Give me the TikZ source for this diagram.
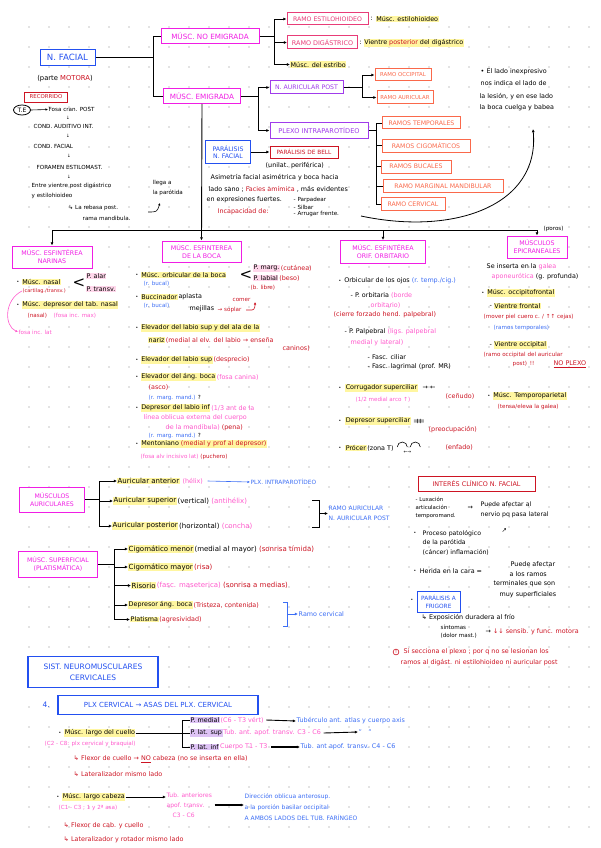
\documentclass[tikz,border=0pt]{standalone}
\usepackage{fontspec}
\setmainfont{DejaVu Sans}
\usetikzlibrary{arrows.meta,positioning,shapes.geometric}

\definecolor{blueink}{RGB}{35,80,240}
\definecolor{magink}{RGB}{240,30,228}
\definecolor{roseink}{RGB}{232,60,120}
\definecolor{purpink}{RGB}{160,60,235}
\definecolor{orgink}{RGB}{250,105,75}
\definecolor{redink}{RGB}{205,20,35}
\definecolor{pinkink}{RGB}{255,90,205}
\definecolor{bluetx}{RGB}{60,110,245}
\definecolor{hlyel}{RGB}{255,246,160}
\definecolor{hlpur}{RGB}{222,195,245}
\definecolor{hlpink}{RGB}{255,215,235}
\definecolor{dotc}{RGB}{200,200,200}

\newcommand{\tred}[1]{\textcolor{redink}{#1}}
\newcommand{\tpink}[1]{\textcolor{pinkink}{#1}}
\newcommand{\tblue}[1]{\textcolor{bluetx}{#1}}

\tikzset{
  tx/.style={anchor=west, inner sep=0.5pt, font=\fontsize{6.4}{7.5}\selectfont},
  sm/.style={tx, font=\fontsize{5.6}{6.5}\selectfont},
  big/.style={tx, font=\fontsize{7}{8}\selectfont},
  hy/.style={tx, fill=hlyel},
  hp/.style={tx, fill=hlpur},
  hk/.style={tx, fill=hlpink},
  hyb/.style={big, fill=hlyel},
  bu/.style={tx, font=\fontsize{4.5}{5}\selectfont},
  bx/.style={draw=#1, text=#1, fill=white, line width=1pt, inner sep=1pt, align=center, font=\fontsize{6.5}{7.8}\selectfont},
  ln/.style={line width=0.9pt},
  arr/.style={ln, -{Latex[length=3.2pt,width=3pt]}},
  thn/.style={line width=0.6pt, -{Latex[length=2.5pt,width=2.4pt]}},
}

\begin{document}
\begin{tikzpicture}[x=1pt,y=-1pt]
\fill[white] (0,0) rectangle (600,848);
\useasboundingbox (0,0) rectangle (600,848);
% dot grid
\foreach \i in {0,...,28}{\foreach \j in {0,...,40}{\fill[dotc] (29+20*\i,27+20*\j) circle (0.8pt);}}

% ---- N. facial tree
\node[bx=blueink, font=\fontsize{8.6}{9}\selectfont, minimum width=55pt, minimum height=16pt] (nfacial) at (67.5,57.5) {N. FACIAL};
\node[tx, anchor=center, font=\fontsize{6.8}{8}\selectfont] (motora) at (65,79) {(parte \tred{MOTORA})};
\node[bx=magink, font=\fontsize{7.2}{8}\selectfont, minimum width=98pt, minimum height=15pt] (noemig) at (210,36) {MÚSC. NO EMIGRADA};
\node[bx=magink, font=\fontsize{7.2}{8}\selectfont, minimum width=77pt, minimum height=15pt] (emig) at (202,96) {MÚSC. EMIGRADA};
\draw[ln] (nfacial.east) -- ++(58,0) coordinate (fk);
\draw[ln] (fk) |- (noemig.west);
\draw[ln] (fk) |- (emig.west);

\node[bx=roseink, font=\fontsize{6.2}{7}\selectfont, minimum width=81pt, minimum height=12pt] (restilo) at (327.5,19) {RAMO ESTILOHIOIDEO};
\node[bx=roseink, font=\fontsize{6.4}{7}\selectfont, minimum width=70pt, minimum height=13pt] (rdigas) at (322.5,42.5) {RAMO DIGÁSTRICO};
\node[hy] (estribo) at (290,64.5) {Músc. del estribo};
\draw[ln] (noemig.east) -- ++(15,0) coordinate (nk);
\draw[arr] (nk) |- (restilo.west);
\draw[arr] (nk) |- (rdigas.west);
\draw[arr] (nk) |- (estribo.west);
\node[tx] (c1) at (370,19) {:};
\node[hy] (estilo) at ([xshift=2pt]c1.east) {Músc. estilohioideo};
\node[tx] (c2) at (359,43) {:};
\node[hy] (vpost) at ([xshift=1pt]c2.east) {Vientre \tred{posterior} del digástrico};

\node[bx=purpink, font=\fontsize{6.2}{7}\selectfont, minimum width=73pt, minimum height=13pt] (naur) at (306.5,87.5) {N. AURICULAR POST};
\node[bx=purpink, font=\fontsize{6.6}{7.5}\selectfont, minimum width=98pt, minimum height=15pt] (plexo) at (319,130.5) {PLEXO INTRAPAROTÍDEO};
\draw[ln] (emig.east) -- ++(17,0) coordinate (ek);
\draw[arr] (ek) |- (naur.west);
\draw[arr] (ek) |- (plexo.west);

\node[bx=orgink, font=\fontsize{5.4}{6.5}\selectfont, minimum width=56pt, minimum height=12pt] (rocc) at (403,75) {RAMO OCCIPITAL};
\node[bx=orgink, font=\fontsize{5.4}{6.5}\selectfont, minimum width=56pt, minimum height=13pt] (raur) at (405,97.5) {RAMO AURICULAR};
\draw[ln] (naur.east) -- ++(19,0) coordinate (ak);
\draw[arr] (ak) |- (rocc.west);
\draw[arr] (ak) |- (raur.west);

\node[bx=orgink, font=\fontsize{6.2}{7}\selectfont, minimum width=78pt, minimum height=12pt] (rtemp) at (421.5,123) {RAMOS TEMPORALES};
\node[bx=orgink, font=\fontsize{6.2}{7}\selectfont, minimum width=88pt, minimum height=13pt] (rcig) at (426,145.5) {RAMOS CIGOMÁTICOS};
\node[bx=orgink, font=\fontsize{6.2}{7}\selectfont, minimum width=70pt, minimum height=13pt] (rbuc) at (416,166.5) {RAMOS BUCALES};
\node[bx=orgink, font=\fontsize{6.2}{7}\selectfont, minimum width=120pt, minimum height=13pt] (rmarg) at (443,186) {RAMO MARGINAL MANDIBULAR};
\node[bx=orgink, font=\fontsize{6.2}{7}\selectfont, minimum width=64pt, minimum height=13pt] (rcerv) at (413,204) {RAMO CERVICAL};
\draw[ln] (plexo.east) -- ++(8,0) coordinate (pk);
\draw[ln] (pk) |- (rtemp.west);
\draw[ln] (pk) |- (rcig.west);
\draw[ln] (pk) |- (rbuc.west);
\draw[ln] (pk) |- (rmarg.west);
\draw[ln] (pk) |- (rcerv.west);

% note on the right
\node[tx] (note1) at (480,72) {• El lado inexpresivo};
\node[tx] (note2) at (480,83) {nos indica el lado de};
\node[tx] (note3) at (479,97) {la lesión, y en ese lado};
\node[tx] (note4) at (479,108) {la boca cuelga y babea};

% ---- paralysis
\node[bx=blueink, font=\fontsize{6.2}{7.5}\selectfont, minimum width=45pt, minimum height=23pt] (paral) at (228,152) {PARÁLISIS\\N. FACIAL};
\node[bx=redink, font=\fontsize{5.8}{7}\selectfont, minimum width=68pt, minimum height=12pt] (bell) at (304,152) {PARÁLISIS DE BELL};
\draw[arr] (paral.east) -- (bell.west);
\node[tx] (unil) at (265,166) {(unilat. periférica)};
\node[tx] (asim) at (210,177.5) {Asimetría facial asimétrica y boca hacia};
\node[tx] (lsano) at (208,189) {lado sano ; \tred{Facies amímica} , más evidentes};
\node[tx] (fuert) at (206,200) {en expresiones fuertes.};
\node[tx] (incap) at (217,212) {\tred{Incapacidad de:}};
\node[sm] (parp) at (293,200) {- Parpadear};
\node[sm] (silb) at (293,207) {- Silbar};
\node[sm] (arrug) at (293,214) {- Arrugar frente.};
\coordinate (cv1) at (361,216);
\coordinate (cv2) at (533,129);
\draw[arr, line width=0.8pt] (cv1) .. controls (455,236) and (540,205) .. (cv2);

% ---- recorrido
\node[bx=redink, font=\fontsize{5.4}{6}\selectfont, line width=0.7pt, minimum width=43pt, minimum height=10pt] (recor) at (46,97) {RECORRIDO};
\node[draw, ellipse, line width=0.8pt, inner sep=0.3pt, minimum width=17pt, minimum height=10pt, font=\fontsize{6}{7}\selectfont] (te) at (22,110) {T.E};
\node[sm] (fosa) at (48,109.5) {Fosa cran. POST};
\draw[thn] (te.east) -- (fosa.west);
\node[sm] (caint) at (33,126) {COND. AUDITIVO INT.};
\node[sm] (cfac) at (33,146.5) {COND. FACIAL};
\node[sm] (foram) at (36,167) {FORAMEN ESTILOMAST.};
\node[sm] (entre) at (31,186) {Entre vientre post digástrico};
\node[sm] (yest) at (31,196) {y estilohioideo};
\node[bu, anchor=center] (d1) at (68,117.5) {↓};
\node[bu, anchor=center] (d2) at (68,136) {↓};
\node[bu, anchor=center] (d3) at (69,156) {↓};
\node[bu, anchor=center] (d4) at (69,176.5) {↓};
\node[sm] (rebasa) at (68,208) {↳ La rebasa post.};
\node[sm] (rama) at (82,218) {rama mandibula.};
\node[sm] (llega) at (152,183) {llega a};
\node[sm] (parot) at (152,192.5) {la parótida};
\coordinate (hk1) at (148,212);
\draw[thn] (hk1) .. controls (157,212) .. (160,203);

% ---- second level
\node[bx=magink, font=\fontsize{6.3}{8}\selectfont, minimum width=80pt, minimum height=22pt] (narinas) at (52,257) {MÚSC. ESFINTÉREA\\NARINAS};
\node[bx=magink, font=\fontsize{6.3}{8}\selectfont, minimum width=79pt, minimum height=21pt] (boca) at (201.5,251.5) {MÚSC. ESFINTEREA\\DE LA BOCA};
\node[bx=magink, font=\fontsize{6.3}{8}\selectfont, minimum width=85pt, minimum height=23pt] (orbit) at (383,252) {MÚSC. ESFINTÉREA\\ORIF. ORBITARIO};
\node[bx=magink, font=\fontsize{6.3}{8}\selectfont, minimum width=60pt, minimum height=22pt] (epicr) at (537,247) {MÚSCULOS\\EPICRANEALES};
\coordinate (hb) at (0,230);
\draw[ln] (narinas.north |- hb) -- (epicr.north |- hb);
\draw[arr] (narinas.north |- hb) -- (narinas.north);
\draw[arr] (orbit.north |- hb) -- (orbit.north);
\draw[arr] (epicr.north |- hb) -- (epicr.north);
\draw[arr] (emig.south) -- (boca.north);
\node[sm] (poros) at (543,229) {(poros)};

% narinas
\node[bu] (nb1) at (16,282) {•};
\node[hy] (nasal) at ([xshift=1.5pt]nb1.east) {Músc. nasal};
\node[tx, font=\fontsize{5}{6}\selectfont] (cartil) at (22,291) {\tred{(cartilag./transv.)}};
\node[inner sep=0pt, font=\fontsize{15}{15}\selectfont] (lt1) at (79,283) {<};
\node[hk] (alar) at (86,276) {P. alar};
\node[hk] (transv) at (86,289) {P. transv.};
\node[bu] (nb2) at (16,305) {•};
\node[hy] (depnas) at ([xshift=1.5pt]nb2.east) {Músc. depresor del tab. nasal};
\node[sm] (nasalr) at (27,316) {\tred{(nasal)}};
\node[sm] (fosamax) at (53,316) {\tpink{(fosa inc. max)}};
\node[sm] (fosalat) at (18,332) {\tpink{fosa inc. lat}};
\draw[thn, pinkink] (cartil.west) .. controls (4,300) and (4,326) .. (fosalat.west);

% boca
\node[bu] (bb1) at (135,275) {•};
\node[hy] (orbbo) at ([xshift=1.5pt]bb1.east) {Músc. orbicular de la boca};
\node[sm] (rbu1) at (143,284) {\tblue{(r. bucal)}};
\node[inner sep=0pt, font=\fontsize{15}{15}\selectfont] (lt2) at (246,275) {<};
\node[hk] (pmarg) at (253,268) {P. marg.};
\node[tx] (pmarg2) at (pmarg.east) {\tred{ (cutánea)}};
\node[hk] (plab) at (253,278) {P. labial};
\node[tx] (plab2) at (plab.east) {\tred{ (beso)}};
\node[sm] (blibre) at (250,287.5) {\tred{(b. libre)}};
\node[bu] (bb2) at (135,297) {•};
\node[hy] (bucc) at ([xshift=1.5pt]bb2.east) {Buccinador};
\node[tx] (bucc2) at (bucc.east) { aplasta};
\node[sm] (rbu2) at (143,306) {\tblue{(r. bucal)}};
\node[tx] (mejil) at (189,309) {mejillas};
\node[sm] (comer) at (232,300) {\tred{comer}};
\node[sm] (soplar) at (217,310) {\tred{→ soplar}};
\coordinate (sp) at ([xshift=4pt]soplar.east);
\draw[thn, redink] (sp) -- ++(6,0) .. controls +(3,0) and +(0,3) .. ++(3,-8);
\node[bu] (bb3) at (135,328) {•};
\node[hy] (elevala) at ([xshift=1.5pt]bb3.east) {Elevador del labio sup y del ala de la};
\node[hy] (nariz) at (148,340) {nariz};
\node[tx] (nariz2) at (nariz.east) {\tred{ (medial al elv. del labio → enseña}};
\node[tx] (caninos) at (282,348.5) {\tred{caninos)}};
\node[bu] (bb4) at (135,360) {•};
\node[hy] (elevsup) at ([xshift=1.5pt]bb4.east) {Elevador del labio sup};
\node[tx] (elevsup2) at (elevsup.east) {\tred{ (desprecio)}};
\node[bu] (bb5) at (135,377) {•};
\node[hy] (elevang) at ([xshift=1.5pt]bb5.east) {Elevador del áng. boca};
\node[tx] (elevang2) at (elevang.east) {\tpink{ (fosa canina)}};
\node[tx] (asco) at (148,387) {\tred{(asco)}};
\node[sm] (rmm1) at (148,398) {\tblue{(r. marg. mand.)} ?};
\node[bu] (bb6) at (135,408) {•};
\node[hy] (depinf) at ([xshift=1.5pt]bb6.east) {Depresor del labio inf};
\node[tx] (depinf2) at (depinf.east) {\tpink{ (1/3 ant de la}};
\node[tx] (linea) at (143,418) {\tpink{línea oblicua externa del cuerpo}};
\node[tx] (mandib) at (165,428) {\tpink{de la mandíbula)} \tred{(pena)}};
\node[sm] (rmm2) at (148,436) {\tblue{(r. marg. mand.)} ?};
\node[bu] (bb7) at (135,444) {•};
\node[hy] (mento) at ([xshift=1.5pt]bb7.east) {Mentoniano \tred{(medial y prof al depresor)}};
\node[sm] (hoyo) at (140,457) {\tpink{(fosa alv incisivo lat)} \tred{(puchero)}};

% orbitario
\node[bu] (ob1) at (338,281) {•};
\node[tx] (orbojo) at ([xshift=1.5pt]ob1.east) {Orbicular de los ojos \tblue{(r. temp./cig.)}};
\node[tx] (porb) at (350,295) {- P. orbitaria \tpink{(borde}};
\node[tx] (porb2) at (370,305) {\tpink{orbitario)}};
\node[tx] (cierre) at (333,314.5) {\tred{(cierre forzado hend. palpebral)}};
\node[tx] (ppal) at (344,332) {- P. Palpebral \tpink{(ligs. palpebral}};
\node[tx] (ppal2) at (350,343) {\tpink{medial y lateral)}};
\node[tx] (fcil) at (367,357) {- Fasc. ciliar};
\node[tx] (flag) at (367,367) {- Fasc. lagrimal (prof. MR)};
\node[bu] (ob2) at (338,388) {•};
\node[hy] (corrug) at ([xshift=3pt]ob2.east) {Corrugador superciliar};
\node[tx] (corrug2) at ([xshift=4pt]corrug.east) {→ ←};
\node[tx] (cenudo) at (445,396) {\tred{(ceñudo)}};
\node[sm] (arco) at (355,400) {\tpink{(1/2 medial arco ↑)}};
\node[bu] (ob3) at (338,421) {•};
\node[hy] (depsup) at ([xshift=3pt]ob3.east) {Depresor superciliar};
\node[tx] (depsup2) at ([xshift=2pt]depsup.east) {⇉⇇};
\node[tx] (preoc) at (428,430) {\tred{(preocupación)}};
\node[bu] (ob4) at (338,448) {•};
\node[hy] (procer) at ([xshift=3pt]ob4.east) {Prócer};
\node[tx] (procer2) at (procer.east) { (zona T)};
\draw[line width=0.6pt] ([xshift=3pt,yshift=1pt]procer2.east) arc[start angle=180, end angle=0, radius=5pt];
\draw[line width=0.6pt] ([xshift=16pt,yshift=1pt]procer2.east) arc[start angle=180, end angle=0, radius=5pt];
\node[bu, anchor=center] (procer3) at ([xshift=13pt,yshift=-4pt]procer2.east) {←→};
\node[tx] (enfado) at (445,447) {\tred{(enfado)}};

% epicraneales
\node[tx] (inserta) at (486,267) {Se inserta en la \tpink{galea}};
\node[tx] (aponeu) at (491,277) {\tpink{aponeurótica} (g. profunda)};
\node[bu] (eb1) at (481,293) {•};
\node[hy] (occfr) at ([xshift=1.5pt]eb1.east) {Músc. occipitofrontal};
\node[tx] (vf0) at (489,306) {-};
\node[hy] (vfront) at ([xshift=1pt]vf0.east) {Vientre frontal};
\node[sm] (mover) at (483,316.5) {\tred{(mover piel cuero c. / ↑↑ cejas)}};
\node[sm] (rtempb) at (493,328) {\tblue{(ramos temporales)}};
\node[tx] (vo0) at (489,345) {-};
\node[hy] (vocc) at ([xshift=1pt]vo0.east) {Vientre occipital};
\node[sm] (ramoocc) at (483,354.5) {\tred{(ramo occipital del auricular}};
\node[sm] (post) at (512,364) {\tred{post)\enspace !!}};
\node[tx] (noplexo) at (553,364) {\tred{\underline{NO PLEXO}}};
\node[bu] (eb2) at (487,396) {•};
\node[hy] (tempar) at ([xshift=1.5pt]eb2.east) {Músc. Temporoparietal};
\node[sm] (tensa) at (497,407) {\tred{(tensa/eleva la galea)}};

% ---- auriculares
\node[bx=magink, font=\fontsize{6.2}{8}\selectfont, minimum width=65pt, minimum height=25pt] (auric) at (52,499.5) {MÚSCULOS\\AURICULARES};
\node[hyb] (aant) at (117,481) {Auricular anterior};
\node[tx] (aant2) at ([xshift=2pt]aant.east) {\tpink{(hélix)}};
\node[tx, font=\fontsize{5.8}{7}\selectfont] (plxin) at (250,482) {\tblue{PLX. INTRAPAROTÍDEO}};
\draw[thn, bluetx] ([xshift=4pt]aant2.east) -- (plxin.west);
\node[hyb] (asup) at (113,501) {Auricular superior};
\node[big] (asup2) at (asup.east) { (vertical) \tpink{(antihélix)}};
\node[hyb] (apost) at (112,526) {Auricular posterior};
\node[big] (apost2) at (apost.east) { (horizontal) \tpink{(concha)}};
\draw[ln] (auric.east) -- ++(14,0) coordinate (auk);
\draw[arr] (auk) |- (aant.west);
\draw[arr] (auk) |- (asup.west);
\draw[arr] (auk) |- (apost.west);
\coordinate (br1) at (312,500);
\coordinate (br2) at (312,527);
\draw[ln] (br1) -- ++(7,0) |- (br2);
\node[tx, align=left, font=\fontsize{6}{10}\selectfont] (rauric) at (328,513) {\tblue{RAMO AURICULAR}\\\tblue{N. AURICULAR POST}};
\coordinate (brm) at (319,513.5);
\draw[arr] (brm) -- (rauric.west |- brm);

% ---- superficial
\node[bx=magink, font=\fontsize{6.2}{8}\selectfont, minimum width=79pt, minimum height=26pt] (superf) at (58,564) {MÚSC. SUPERFICIAL\\(PLATISMÁTICA)};
\node[hyb] (cmen) at (128,549) {Cigomático menor};
\node[big] (cmen2) at (cmen.east) { (medial al mayor) \tred{(sonrisa tímida)}};
\node[hyb] (cmay) at (128,567) {Cigomático mayor};
\node[big] (cmay2) at (cmay.east) { \tred{(risa)}};
\node[hyb] (risor) at (131,585.5) {Risorio};
\node[big] (risor2) at (risor.east) { \tpink{(fasc. maseterica)} \tred{(sonrisa a medias)}};
\node[hy] (depang) at (128,605) {Depresor áng. boca};
\node[tx] (depang2) at (depang.east) { \tred{(Tristeza, contenida)}};
\node[hy] (platis) at (130,619.5) {Platisma};
\node[tx] (platis2) at (platis.east) { \tred{(agresividad)}};
\draw[ln] (superf.east) -- ++(16,0) coordinate (suk);
\draw[arr] (suk) |- (cmen.west);
\draw[arr] (suk) |- (cmay.west);
\draw[arr] (suk) |- (risor.west);
\draw[arr] (suk) |- (depang.west);
\draw[arr] (suk) |- (platis.west);
\coordinate (rc1) at (283,602);
\coordinate (rc2) at (283,626);
\draw[ln, bluetx] (rc1) -- ++(4,0) |- (rc2);
\node[tx] (rcerv2) at (298,614) {\tblue{Ramo cervical}};
\coordinate (rcm) at (287,614);
\draw[arr, bluetx] (rcm) -- (rcerv2.west);

% ---- interes clinico
\node[bx=redink, font=\fontsize{6.4}{7.5}\selectfont, minimum width=117pt, minimum height=15pt] (interes) at (476.5,483.5) {INTERÉS CLÍNICO N. FACIAL};
\node[tx, align=left, font=\fontsize{5.4}{8}\selectfont] (luxac) at (415,508) {- Luxación\\articulación\\temporomand.};
\node[tx] (luxarr) at (467,508) {→};
\node[tx, align=left, font=\fontsize{6.2}{10}\selectfont] (puede) at (480,510) {Puede afectar al\\nervio pq pasa lateral};
\node[bu] (ib2) at (413,533) {•};
\node[tx, align=left, font=\fontsize{6.2}{9.5}\selectfont] (proceso) at (422,542.5) {Proceso patológico\\de la parótida\\(cáncer) inflamación)};
\node[tx] (procarr) at (501,531) {↗};
\node[bu] (ib3) at (413,571) {•};
\node[tx] (herida) at ([xshift=2pt]ib3.east) {Herida en la cara =};
\node[tx] (pa1) at (510,564) {Puede afectar};
\node[tx] (pa2) at (509,574) {a los ramos};
\node[tx] (pa3) at (493,584) {terminales que son};
\node[tx] (pa4) at (499,595) {muy superficiales};
\node[bu] (ib4) at (410,600) {•};
\node[bx=blueink, font=\fontsize{5.8}{7.5}\selectfont, minimum width=43pt, minimum height=21pt] (frigore) at (438.5,602) {PARÁLISIS A\\FRIGORE};
\node[tx] (expos) at (421,618) {↳ Exposición duradera al frío};
\node[sm] (sint) at (440,627) {síntomas};
\node[sm] (sint2) at (440,635.5) {(dolor mast.)};
\node[tx] (sensib) at (485,632) {→ \tred{↓↓ sensib. y func. motora}};

% warning note
\node[draw=redink, circle, line width=0.6pt, inner sep=0.6pt, text=redink, font=\fontsize{5}{5}\selectfont] (warn) at (396,652) {!};
\node[tx] (warn1) at (403,652) {\tred{Si secciona el plexo ; por q no se lesionan los}};
\node[tx] (warn2) at (400,663) {\tred{ramos al digást. ni estilohioideo ni auricular post}};

% ---- cervical
\node[bx=blueink, font=\fontsize{7.5}{11}\selectfont, line width=1.2pt, minimum width=130pt, minimum height=31pt] (sist) at (93,672) {SIST. NEUROMUSCULARES\\CERVICALES};
\node[tx, font=\fontsize{7.5}{8}\selectfont, text=blueink] (num4) at (42,705) {4.};
\node[bx=blueink, font=\fontsize{7}{8}\selectfont, line width=1.2pt, minimum width=200pt, minimum height=19pt] (plxc) at (158,705) {PLX CERVICAL → ASAS DEL PLX. CERVICAL};

\node[bu] (lb1) at (58,733) {•};
\node[hy] (lcuello) at ([xshift=2pt]lb1.east) {Músc. largo del cuello};
\node[hp] (pmed) at (190,720) {P. medial};
\node[tx] (pmed2) at (pmed.east) {\tpink{ (C6 - T3 vért)}};
\node[tx] (tuberc) at (296,721) {\tblue{Tubérculo ant. atlas y cuerpo axis}};
\draw[arr] ([xshift=2pt]pmed2.east) -- (tuberc.west);
\node[hp] (plsup) at (190,733) {P. lat. sup};
\node[tx] (plsup2) at (plsup.east) {\tpink{ Tub. ant. apof. transv. C3 - C6}};
\node[tx] (comil) at (358,732) {\tblue{''\quad''}};
\draw[arr] ([xshift=2pt]plsup2.east) -- (comil.west);
\node[sm] (c2c8) at (44,744) {\tpink{(C2 - C8: plx cervical y braquial)}};
\node[hp] (plinf) at (190,747) {P. lat. inf};
\node[tx] (plinf2) at (plinf.east) {\tpink{ Cuerpo T1 - T3}};
\node[tx] (tubc4) at (300,747) {\tblue{Tub. ant apof. transv. C4 - C6}};
\draw[arr, line width=1.2pt] ([xshift=3pt]plinf2.east) -- (tubc4.west);
\coordinate (brk) at (182,733);
\draw[ln] (lcuello.east) -- (brk);
\draw[ln] (pmed.west -| brk) -- (plinf.west -| brk);
\draw[ln] (pmed.west -| brk) -- (pmed.west);
\draw[ln] (plsup.west -| brk) -- (plsup.west);
\draw[ln] (plinf.west -| brk) -- (plinf.west);
\node[tx] (flexc) at (73,759) {\tred{↳ Flexor de cuello → \underline{NO} cabeza (no se inserta en ella)}};
\node[tx] (latc) at (73,774) {\tred{↳ Lateralizador mismo lado}};

\node[bu] (lb2) at (56,797) {•};
\node[hy] (lcabeza) at ([xshift=2pt]lb2.east) {Músc. largo cabeza};
\node[tx, align=left, font=\fontsize{6}{10}\selectfont] (tubant) at (166,805) {\tpink{Tub. anteriores}\\\tpink{apof. transv.}\\\tpink{\quad C3 - C6}};
\draw[arr] (lcabeza.east) -- (lcabeza.east -| tubant.west);
\node[tx, align=left, font=\fontsize{6}{11}\selectfont] (direcc) at (244,807) {\tblue{Dirección oblicua anterosup.}\\\tblue{a la porción basilar occipital}\\\tblue{A AMBOS LADOS DEL TUB. FARÍNGEO}};
\draw[arr, line width=1.2pt] ([xshift=2pt]tubant.east) -- (tubant.east -| direcc.west);
\node[sm] (c1c3) at (58,808) {\tpink{(C1 - C3 ; 1 y 2ª asa)}};
\node[tx] (flexcab) at (63,826) {\tred{↳ Flexor de cab. y cuello}};
\node[tx] (latrot) at (63,840) {\tred{↳ Lateralizador y rotador mismo lado}};
\end{tikzpicture}
\end{document}
